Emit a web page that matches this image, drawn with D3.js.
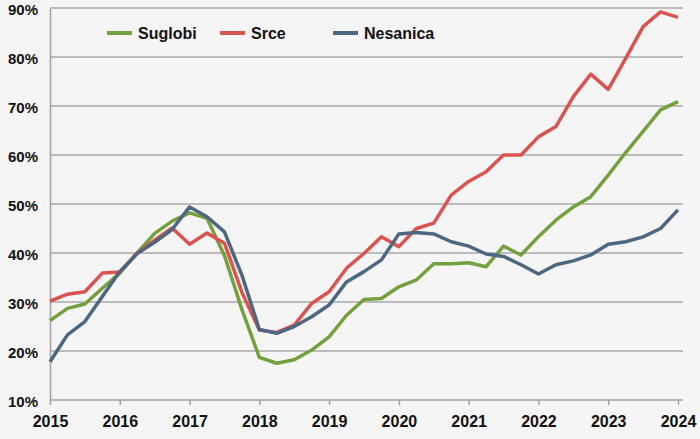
<!DOCTYPE html>
<html>
<head>
<meta charset="utf-8">
<script src="https://cdn.jsdelivr.net/npm/d3@7"></script>
<style>
  body { margin: 0; background: #f5f5f5; }
  .tick text { font-family: "Liberation Sans", Arial, sans-serif; font-weight: bold; font-size: 15px; fill: #111; }
  .x-axis .tick text { font-size: 16px; }
  .legend text { font-family: "Liberation Sans", Arial, sans-serif; font-weight: bold; font-size: 16px; fill: #111; }
</style>
</head>
<body>
<div id="chart"></div>
<script>
// quarterly values, 2015 Q1 .. 2024 Q1
const years = [2015, 2016, 2017, 2018, 2019, 2020, 2021, 2022, 2023, 2024];
const yTicks = [10, 20, 30, 40, 50, 60, 70, 80, 90];

const suglobi = [26.2, 28.7, 29.6, 32.8, 35.9, 40.0, 44.0, 46.5, 48.2, 47.1,
                 39.5, 28.5, 18.7, 17.5, 18.2, 20.2, 22.9, 27.3, 30.5, 30.7,
                 33.1, 34.5, 37.8, 37.8, 38.0, 37.2, 41.4, 39.6, 43.3, 46.7,
                 49.4, 51.5, 55.9, 60.5, 64.8, 69.2, 70.9];
const srce = [30.2, 31.6, 32.1, 35.9, 36.1, 40.0, 42.6, 45.1, 41.8, 44.1,
              42.0, 32.0, 24.3, 23.8, 25.3, 29.7, 32.1, 36.9, 39.9, 43.3,
              41.3, 45.0, 46.1, 51.8, 54.6, 56.6, 60.0, 60.0, 63.7, 65.8,
              71.9, 76.5, 73.4, 79.7, 86.2, 89.2, 88.1];
const nesanica = [17.8, 23.3, 26.0, 31.1, 36.2, 39.9, 42.2, 44.8, 49.4, 47.4,
                  44.3, 35.5, 24.4, 23.6, 25.0, 27.0, 29.4, 34.1, 36.2, 38.6,
                  43.9, 44.2, 43.9, 42.3, 41.4, 39.8, 39.3, 37.6, 35.7, 37.6,
                  38.4, 39.6, 41.8, 42.3, 43.3, 45.0, 48.8];

const series = [
  { name: "Suglobi", values: suglobi, color: "#74a03e" },
  { name: "Srce", values: srce, color: "#d9534f" },
  { name: "Nesanica", values: nesanica, color: "#4d6782" }
];

// category list: every quarter up to 2024 Q1
const quarters = [];
years.forEach(y => {
  ["Q1", "Q2", "Q3", "Q4"].forEach(q => {
    if (y < 2024 || q === "Q1") quarters.push(y + " " + q);
  });
});

const width = 700, height = 439;
const svg = d3.select("#chart").append("svg")
    .attr("width", width)
    .attr("height", height);

svg.append("rect").attr("width", width).attr("height", height).attr("fill", "#f5f5f5");

const x = d3.scalePoint().domain(quarters).range([50, 678]);
const y = d3.scaleLinear().domain([10, 90]).range([400, 8]);

// gridlines
svg.append("g")
  .selectAll("line")
  .data(yTicks.slice(1))
  .enter()
  .append("line")
  .attr("x1", 50).attr("x2", 683)
  .attr("y1", d => y(d)).attr("y2", d => y(d))
  .attr("stroke", "#a8a8a8")
  .attr("stroke-width", 1.5);

// y axis
const yAxis = svg.append("g")
    .attr("transform", "translate(50,0)")
    .call(d3.axisLeft(y).tickValues(yTicks).tickFormat(d => d + "%").tickSize(0).tickPadding(12));
yAxis.select(".domain").attr("stroke", "#a0a0a0").attr("stroke-width", 1.5);
yAxis.selectAll(".tick text").attr("dy", "0.45em");

// x axis
const xAxis = svg.append("g")
    .attr("class", "x-axis")
    .attr("transform", "translate(0,400)")
    .call(d3.axisBottom(x)
      .tickValues(quarters.filter(q => q.endsWith("Q1")))
      .tickFormat(q => q.slice(0, 4))
      .tickSize(5).tickPadding(11).tickSizeOuter(0));
xAxis.select(".domain").attr("stroke", "#a0a0a0").attr("stroke-width", 1.5).attr("d", "M50,0H683");
xAxis.selectAll(".tick line").attr("stroke", "#a0a0a0").attr("stroke-width", 1.5);

// lines
const line = d3.line()
    .x((d, i) => x(quarters[i]))
    .y(d => y(d));

svg.append("g")
  .selectAll("path")
  .data(series)
  .enter()
  .append("path")
  .attr("d", d => line(d.values))
  .attr("fill", "none")
  .attr("stroke", d => d.color)
  .attr("stroke-width", 3.5)
  .attr("stroke-linejoin", "round");

// legend
const legendX = [107, 220, 333];
const legend = svg.append("g").attr("class", "legend")
  .selectAll("g")
  .data(series)
  .enter()
  .append("g")
  .attr("transform", (d, i) => "translate(" + legendX[i] + ",33)");

legend.append("line")
  .attr("x1", 0).attr("x2", 25)
  .attr("stroke", d => d.color)
  .attr("stroke-width", 4);

legend.append("text")
  .attr("x", 31)
  .attr("dy", "0.35em")
  .text(d => d.name);
</script>
</body>
</html>
